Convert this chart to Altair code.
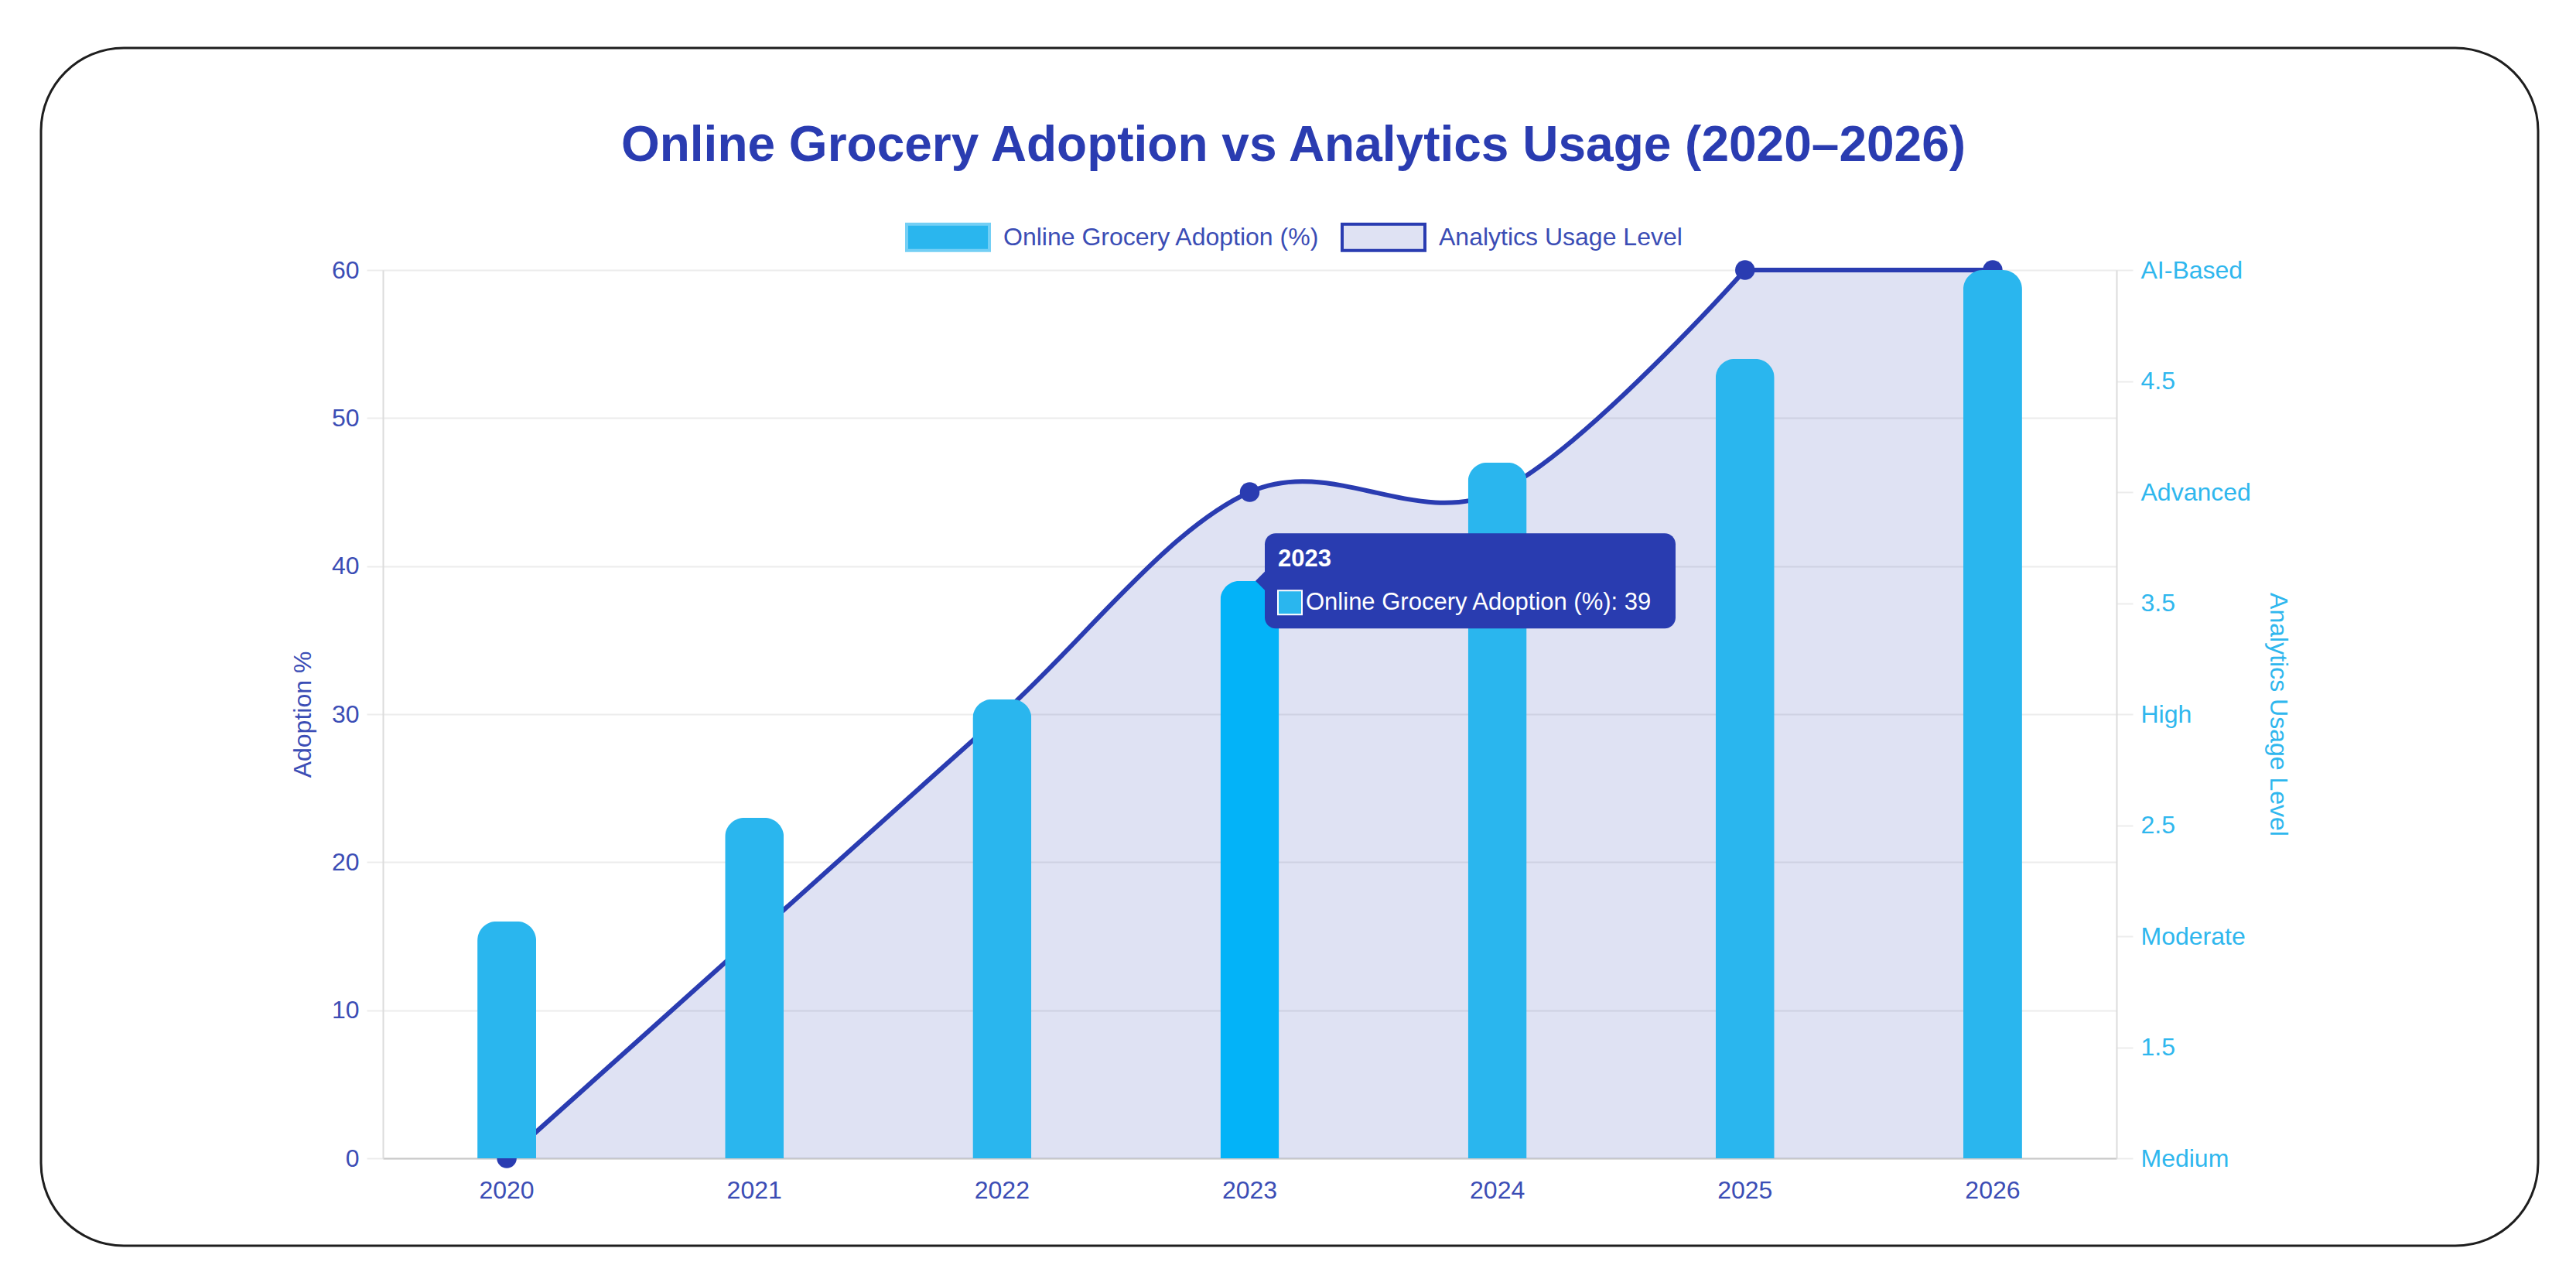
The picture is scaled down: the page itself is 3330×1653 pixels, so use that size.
import altair as alt
import pandas as pd

# ---------------- data ----------------
years = ["2020", "2021", "2022", "2023", "2024", "2025", "2026"]
adoption = [16, 23, 31, 39, 47, 54, 60]
analytics_level = [1, 2, 3, 4, 4, 5, 5]
level_values = [1, 2, 3, 4, 5]
level_names = ["Medium", "Moderate", "High", "Advanced", "AI-Based"]
right_ticks = [1, 1.5, 2, 2.5, 3, 3.5, 4, 4.5, 5]
left_ticks = [0, 10, 20, 30, 40, 50, 60]
series_names = ["Online Grocery Adoption (%)", "Analytics Usage Level"]
highlight_year = "2023"
title_text = "Online Grocery Adoption vs Analytics Usage (2020\u20132026)"

df = pd.DataFrame({
    "year": years,
    "yr": [int(y) for y in years],
    "adoption": adoption,
    "level": analytics_level,
    "series": [series_names[0]] * len(years),
})
frame_df = pd.DataFrame({"frame": [0]})

# ---------------- style ----------------
FONT = "Liberation Sans"
BAR = "#2ab6ee"
BAR_HOVER = "#03b3f8"
NAVY = "#2a3cb1"
TIP_BG = "#293cb0"
LEFT_LABEL = "#3b4db5"
RIGHT_LABEL = "#2fb7ee"
GRID = "#ececec"

W, H = 2241, 1148
PAD = {"left": 495, "top": 349, "right": 3330 - 495 - W, "bottom": 1653 - 349 - H}

label_expr = " : ".join(
    [f"datum.value == {v} ? '{n}'" for v, n in zip(level_values, level_names)]
) + " : format(datum.value, '.1f')"

x_axis = alt.Axis(
    title=None, labelAngle=0, ticks=False, grid=False,
    domainColor="#c8c8c8", domainWidth=2,
    labelFont=FONT, labelFontSize=32, labelColor=LEFT_LABEL,
    labelBaseline="top", labelPadding=26,
)
X = alt.X("year:N", sort=years,
          scale=alt.Scale(paddingInner=0, paddingOuter=0), axis=x_axis)

left_axis = alt.Axis(
    orient="left", values=left_ticks, title="Adoption %",
    grid=True, gridColor=GRID, gridWidth=2,
    domainColor="#dcdcdc", domainWidth=2,
    ticks=True, tickColor=GRID, tickWidth=2, tickSize=21,
    labelPadding=10, labelFont=FONT, labelFontSize=32, labelColor=LEFT_LABEL,
    titleFont=FONT, titleFontSize=32, titleFontWeight="normal", titleColor=LEFT_LABEL,
    titleAngle=270, titleX=-104, titleY=H / 2, titleAlign="center", titleBaseline="middle",
)
right_axis = alt.Axis(
    orient="right", values=right_ticks, labelExpr=label_expr,
    title="Analytics Usage Level", grid=False,
    domainColor="#dcdcdc", domainWidth=2,
    ticks=True, tickColor=GRID, tickWidth=2, tickSize=21,
    labelPadding=10, labelFont=FONT, labelFontSize=32, labelColor=RIGHT_LABEL,
    titleFont=FONT, titleFontSize=32, titleFontWeight="normal", titleColor=RIGHT_LABEL,
    titleAngle=90, titleX=208, titleY=H / 2, titleAlign="center", titleBaseline="middle",
)

YL = alt.Y("adoption:Q", scale=alt.Scale(domain=[0, 60], nice=False, zero=True), axis=left_axis)
YR = alt.Y("level:Q", scale=alt.Scale(domain=[1, 5], nice=False, zero=False), axis=right_axis)

# ---------------- right group: frame, area, line, points ----------------
base = alt.Chart(df)

frame = alt.Chart(frame_df).mark_rect(
    cornerRadius=107, fillOpacity=0, stroke="#1e1e1e", strokeWidth=3, clip=False
).encode(x=alt.value(-442), x2=alt.value(2786), y=alt.value(-287), y2=alt.value(1261))

area_curve = base.transform_filter("datum.yr <= 2025").mark_area(
    interpolate="cardinal", tension=0, color=NAVY, opacity=0.15, clip=True
).encode(x=X, y=YR, y2=alt.datum(1))
area_flat = base.transform_filter("datum.yr >= 2025").mark_area(
    interpolate="linear", color=NAVY, opacity=0.15, clip=True
).encode(x=X, y=YR, y2=alt.datum(1))

line_curve = base.transform_filter("datum.yr <= 2025").mark_line(
    interpolate="cardinal", tension=0, color=NAVY, strokeWidth=6
).encode(x=X, y=YR)
line_flat = base.transform_filter("datum.yr >= 2025").mark_line(
    interpolate="linear", color=NAVY, strokeWidth=6
).encode(x=X, y=YR)

points = base.mark_circle(size=650, color=NAVY, opacity=1, clip=False).encode(x=X, y=YR)

right_group = alt.layer(frame, area_curve, area_flat, line_curve, line_flat, points)

# ---------------- left group: bars + tooltip ----------------
legend = alt.Legend(
    title=None, orient="none", legendX=675, legendY=-98, direction="horizontal",
    symbolType="M-1,-0.318H1V0.318H-1Z", symbolSize=11449,
    symbolStrokeWidth=4,
    symbolStrokeColor=alt.ExprRef(expr=f"datum.value === '{series_names[1]}' ? '{NAVY}' : '#74cff5'"),
    symbolOpacity=1,
    labelFont=FONT, labelFontSize=32, labelColor=LEFT_LABEL,
    labelOffset=16, labelLimit=1000, columnPadding=20, padding=0,
)

bars = base.mark_bar(width=76, cornerRadiusTopLeft=25, cornerRadiusTopRight=25).encode(
    x=X, y=YL,
    fill=alt.condition(
        f"datum.year == '{highlight_year}'",
        alt.value(BAR_HOVER),
        alt.Fill("series:N",
                 scale=alt.Scale(domain=series_names, range=[BAR, "#dfe2f3"]),
                 legend=legend),
    ),
)

tip = base.transform_filter(f"datum.year == '{highlight_year}'").transform_calculate(
    label="datum.series + ': ' + datum.adoption"
)
tip_box = tip.mark_rect(width=531, height=123, cornerRadius=14, color=TIP_BG,
                        opacity=1, xOffset=285).encode(x=X, y=YL)
tip_caret = tip.mark_point(shape="M-0.5,0L0.5,-1L0.5,1Z", size=576, filled=True,
                           color=TIP_BG, opacity=1, xOffset=13.5).encode(x=X, y=YL)
tip_swatch = tip.mark_rect(width=31, height=31, color=BAR, stroke="white",
                           strokeWidth=2, xOffset=52, yOffset=28).encode(x=X, y=YL)
tip_title = tip.mark_text(align="left", baseline="alphabetic", dx=36.5, dy=-19,
                          font=FONT, fontSize=31, fontWeight="bold", color="white"
                          ).encode(x=X, y=YL, text="year:N")
tip_text = tip.mark_text(align="left", baseline="alphabetic", dx=72.5, dy=37,
                         font=FONT, fontSize=31, color="white"
                         ).encode(x=X, y=YL, text="label:N")

left_group = alt.layer(bars, tip_box, tip_caret, tip_swatch, tip_title, tip_text)

chart = alt.layer(right_group, left_group).resolve_scale(y="independent").properties(
    width=W, height=H,
    padding=PAD,
    autosize=alt.AutoSizeParams(type="none"),
    background="white",
    title=alt.TitleParams(
        text=title_text, font=FONT, fontSize=64, fontWeight="bold", color=NAVY,
        anchor="middle", frame="group", dx=56.5, offset=0, dy=211, baseline="alphabetic",
    ),
).configure_view(stroke=None).configure(font=FONT)

chart.save("out.html", embed_options={"renderer": "svg", "actions": False})
